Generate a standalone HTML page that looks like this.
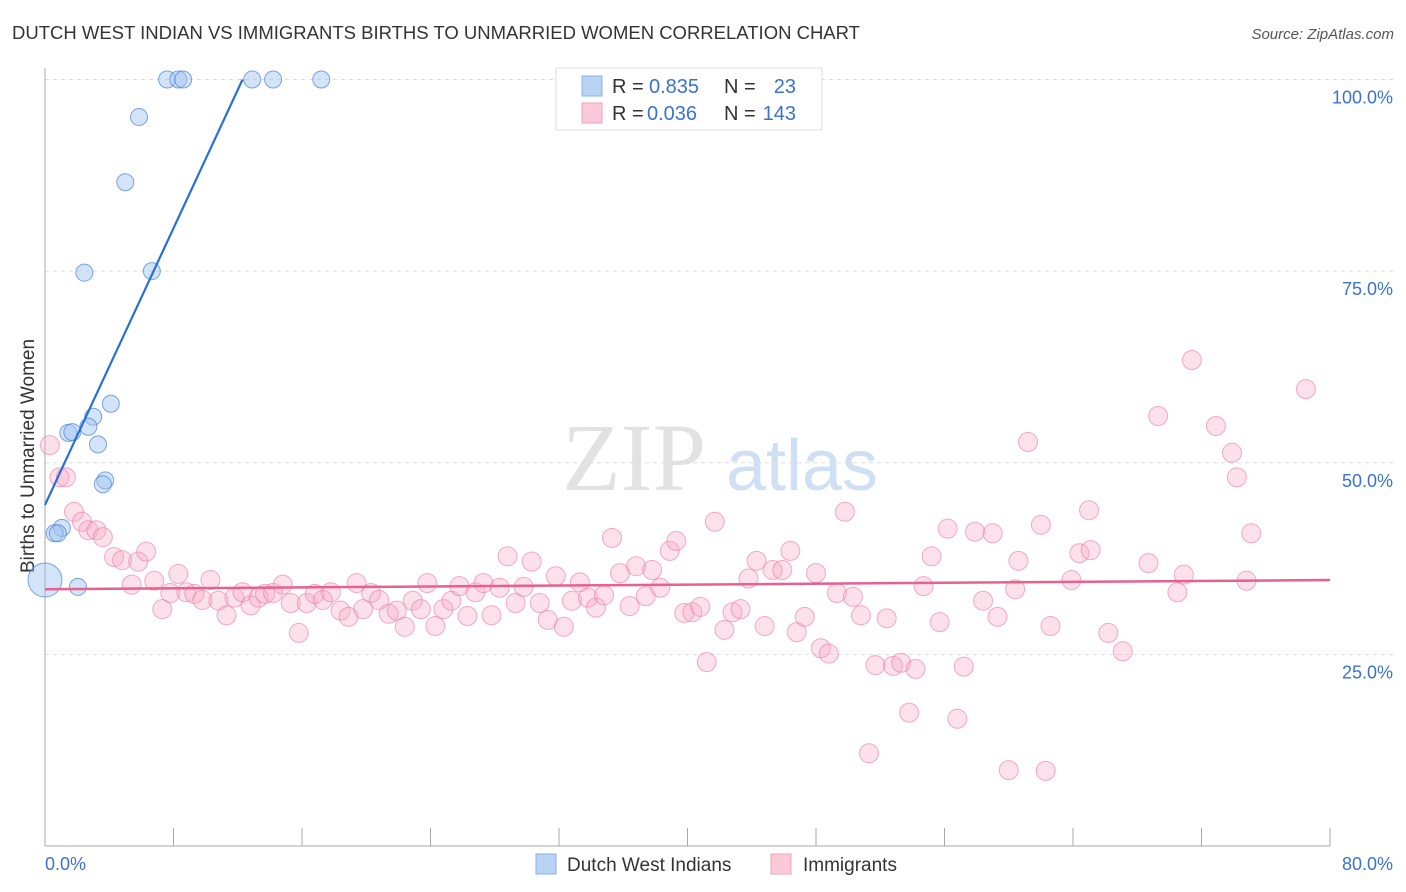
<!DOCTYPE html>
<html><head><meta charset="utf-8"><style>
body{margin:0;background:#fff;}
svg{display:block;font-family:"Liberation Sans",sans-serif;}
</style></head><body>
<svg id="chart" width="1406" height="892" viewBox="0 0 1406 892">
<text x="12" y="39" font-size="18.5" fill="#333">DUTCH WEST INDIAN VS IMMIGRANTS BIRTHS TO UNMARRIED WOMEN CORRELATION CHART</text>
<text x="1394" y="39" font-size="15" font-style="italic" fill="#555" text-anchor="end">Source: ZipAtlas.com</text>
<g>
<text x="634" y="490" font-size="96" font-family="Liberation Serif,serif" fill="#e2e2e2" text-anchor="middle">ZIP</text>
<text x="802" y="490" font-size="72" fill="#cfe0f5" text-anchor="middle">atlas</text>
</g>
<g id="grid"></g>
<g id="axes"></g>
<text transform="translate(34,456) rotate(-90)" font-size="19" fill="#333" text-anchor="middle">Births to Unmarried Women</text>
<g id="pts"></g>
<g id="lines"></g>
<g>
<rect x="556" y="68" width="266" height="62" fill="#fff" stroke="#ddd"/>
<rect x="582" y="76" width="20" height="20" fill="#b9d3f5" stroke="#8ab2e6"/>
<text x="612" y="93" font-size="20" fill="#333">R =</text>
<text x="649" y="93" font-size="20" fill="#3a72d0">0.835</text>
<text x="724" y="93" font-size="20" fill="#333">N =</text>
<text x="796" y="93" font-size="20" fill="#3a72d0" text-anchor="end">23</text>
<rect x="582" y="103" width="20" height="20" fill="#fbcad8" stroke="#f0a0b8"/>
<text x="612" y="120" font-size="20" fill="#333">R =</text>
<text x="647" y="120" font-size="20" fill="#3a72d0">0.036</text>
<text x="724" y="120" font-size="20" fill="#333">N =</text>
<text x="796" y="120" font-size="20" fill="#3a72d0" text-anchor="end">143</text>
</g>
<g>
<rect x="536" y="854" width="20" height="20" fill="#b9d3f5" stroke="#8ab2e6"/>
<text x="567" y="871" font-size="19" fill="#333">Dutch West Indians</text>
<rect x="771" y="854" width="20" height="20" fill="#fbcad8" stroke="#f0a0b8"/>
<text x="803" y="871" font-size="19" fill="#333">Immigrants</text>
</g>
</svg>
<script>
const yTicks=[25,50,75,100];
const yTickLabels=["25.0%","50.0%","75.0%","100.0%"];
const xTickLabels=["0.0%","80.0%"];
const blueX=[7.6,8.3,8.6,12.9,14.2,17.2,5.85,5.0,2.45,6.65,4.1,3.0,2.7,1.45,1.7,3.3,3.75,3.6,1.05,0.6,0.8,2.05,0];
const blueY=[100,100,100,100,100,100,95.1,86.6,74.8,75.0,57.7,56.0,54.7,53.9,54.0,52.4,47.7,47.2,41.5,40.8,40.8,33.8,34.7];
const pinkX=[0.3,0.9,1.3,1.8,2.3,2.7,3.2,3.6,4.3,4.8,5.8,6.3,5.4,6.8,7.3,7.8,8.3,8.8,9.3,9.8,10.3,10.8,11.3,11.8,12.3,12.8,13.3,13.7,14.2,14.8,15.3,15.8,16.3,16.8,17.3,17.8,18.4,18.9,19.4,19.8,20.3,20.8,21.4,21.9,22.4,22.9,23.4,23.8,24.3,24.8,25.3,25.8,26.3,26.8,27.3,27.8,28.3,28.8,29.3,29.8,30.3,30.8,31.3,31.8,32.3,32.8,33.3,33.8,34.3,34.8,35.3,35.8,36.4,36.8,37.4,37.8,38.3,38.9,39.3,39.8,40.3,40.8,41.2,41.7,42.3,42.8,43.3,43.8,44.3,44.8,45.3,45.9,46.4,46.8,47.3,48.0,48.3,48.8,49.3,49.8,50.3,50.8,51.3,51.7,52.4,52.8,53.3,53.8,54.2,54.7,55.2,55.7,56.2,56.8,57.2,57.9,58.4,59.0,59.3,60.0,60.6,60.4,61.2,62.0,62.3,62.6,63.9,64.4,65.1,65.0,66.2,67.1,68.7,69.3,70.5,70.9,71.4,72.9,73.9,74.2,74.8,75.1,78.5];
const pinkY=[52.3,48.1,48.1,43.6,42.3,41.2,41.2,40.3,37.7,37.3,37.1,38.4,34.1,34.6,30.9,33.0,35.5,33.1,32.9,32.1,34.7,32.0,30.1,32.4,33.1,31.4,32.4,32.9,33.0,34.1,31.7,27.8,31.7,32.9,32.1,33.1,30.7,29.9,34.3,30.9,33.0,32.1,30.3,30.7,28.6,32.0,30.9,34.3,28.7,30.9,32.0,33.9,30.0,33.1,34.3,30.1,33.7,37.8,31.7,33.8,37.1,31.7,29.5,35.2,28.6,32.0,34.4,32.4,31.1,32.7,40.2,35.6,31.3,36.5,32.6,36.0,33.7,38.5,39.8,30.4,30.5,31.2,24.0,42.3,28.2,30.5,30.9,34.9,37.2,28.7,36.0,36.0,38.5,27.9,29.9,35.6,25.8,25.1,33.0,43.6,32.5,30.1,12.1,23.6,29.7,23.5,23.9,17.4,23.1,33.9,37.8,29.2,41.4,16.6,23.4,41.0,32.0,40.8,29.9,9.9,37.2,33.5,52.7,41.9,9.8,28.7,34.7,38.2,38.6,43.8,27.8,25.4,36.9,56.1,33.1,35.4,63.4,54.8,51.3,48.1,34.6,40.8,59.6];
const blueLine=[[0,44.5],[12.3,100]];
const pinkLine=[[0,33.5],[80,34.7]];

const NS="http://www.w3.org/2000/svg";
const X0=45,X1=1330,Y0=846,Y100=79.5;
const sx=v=>X0+(X1-X0)*v/80;
const sy=v=>Y0-(Y0-Y100)*v/100;
function mk(tag,attrs,parent){const e=document.createElementNS(NS,tag);for(const k in attrs)e.setAttribute(k,attrs[k]);parent.appendChild(e);return e;}
const grid=document.getElementById('grid'),axes=document.getElementById('axes');
yTicks.forEach((t,i)=>{
 const l=mk('line',{x1:X0,x2:1393,y1:sy(t),y2:sy(t),stroke:'#ddd','stroke-dasharray':'4,4'},grid);
 
 
 const tx=mk('text',{x:1393,y:sy(t)+24,'font-size':18,fill:'#3a72d0','text-anchor':'end'},axes);
 tx.textContent=yTickLabels[i];
 
 
});
mk('line',{x1:X0,x2:X0,y1:68,y2:Y0,stroke:'#aaa'},axes);
mk('line',{x1:X0,x2:X1,y1:Y0,y2:Y0,stroke:'#aaa'},axes);
for(let i=0;i<=10;i++){const t=mk('line',{x1:sx(i*8),x2:sx(i*8),y1:828,y2:Y0,stroke:'#aaa'},axes);
 
 }
const xl0=mk('text',{x:45,y:870,'font-size':18,fill:'#3a72d0'},axes);xl0.textContent=xTickLabels[0];


const xl1=mk('text',{x:1393,y:870,'font-size':18,fill:'#3a72d0','text-anchor':'end'},axes);xl1.textContent=xTickLabels[1];


const pts=document.getElementById('pts');
pinkX.forEach((x,i)=>{const c=mk('circle',{cx:sx(x),cy:sy(pinkY[i]),r:9.5,fill:'rgba(248,170,195,0.35)',stroke:'rgba(235,120,160,0.6)','stroke-width':1},pts);
 
 });
blueX.forEach((x,i)=>{const big=(x===0);const c=mk('circle',{cx:sx(x),cy:sy(blueY[i]),r:big?17:8.5,fill:'rgba(160,195,240,0.45)',stroke:'rgba(70,130,215,0.7)','stroke-width':1},pts);
 
 });
const lines=document.getElementById('lines');
const bl=mk('line',{x1:sx(blueLine[0][0]),y1:sy(blueLine[0][1]),x2:sx(blueLine[1][0]),y2:sy(blueLine[1][1]),stroke:'#2a6fd6','stroke-width':2.2},lines);


const pl=mk('line',{x1:sx(pinkLine[0][0]),y1:sy(pinkLine[0][1]),x2:sx(pinkLine[1][0]),y2:sy(pinkLine[1][1]),stroke:'#e8608c','stroke-width':2.5},lines);


</script>
</body></html>
